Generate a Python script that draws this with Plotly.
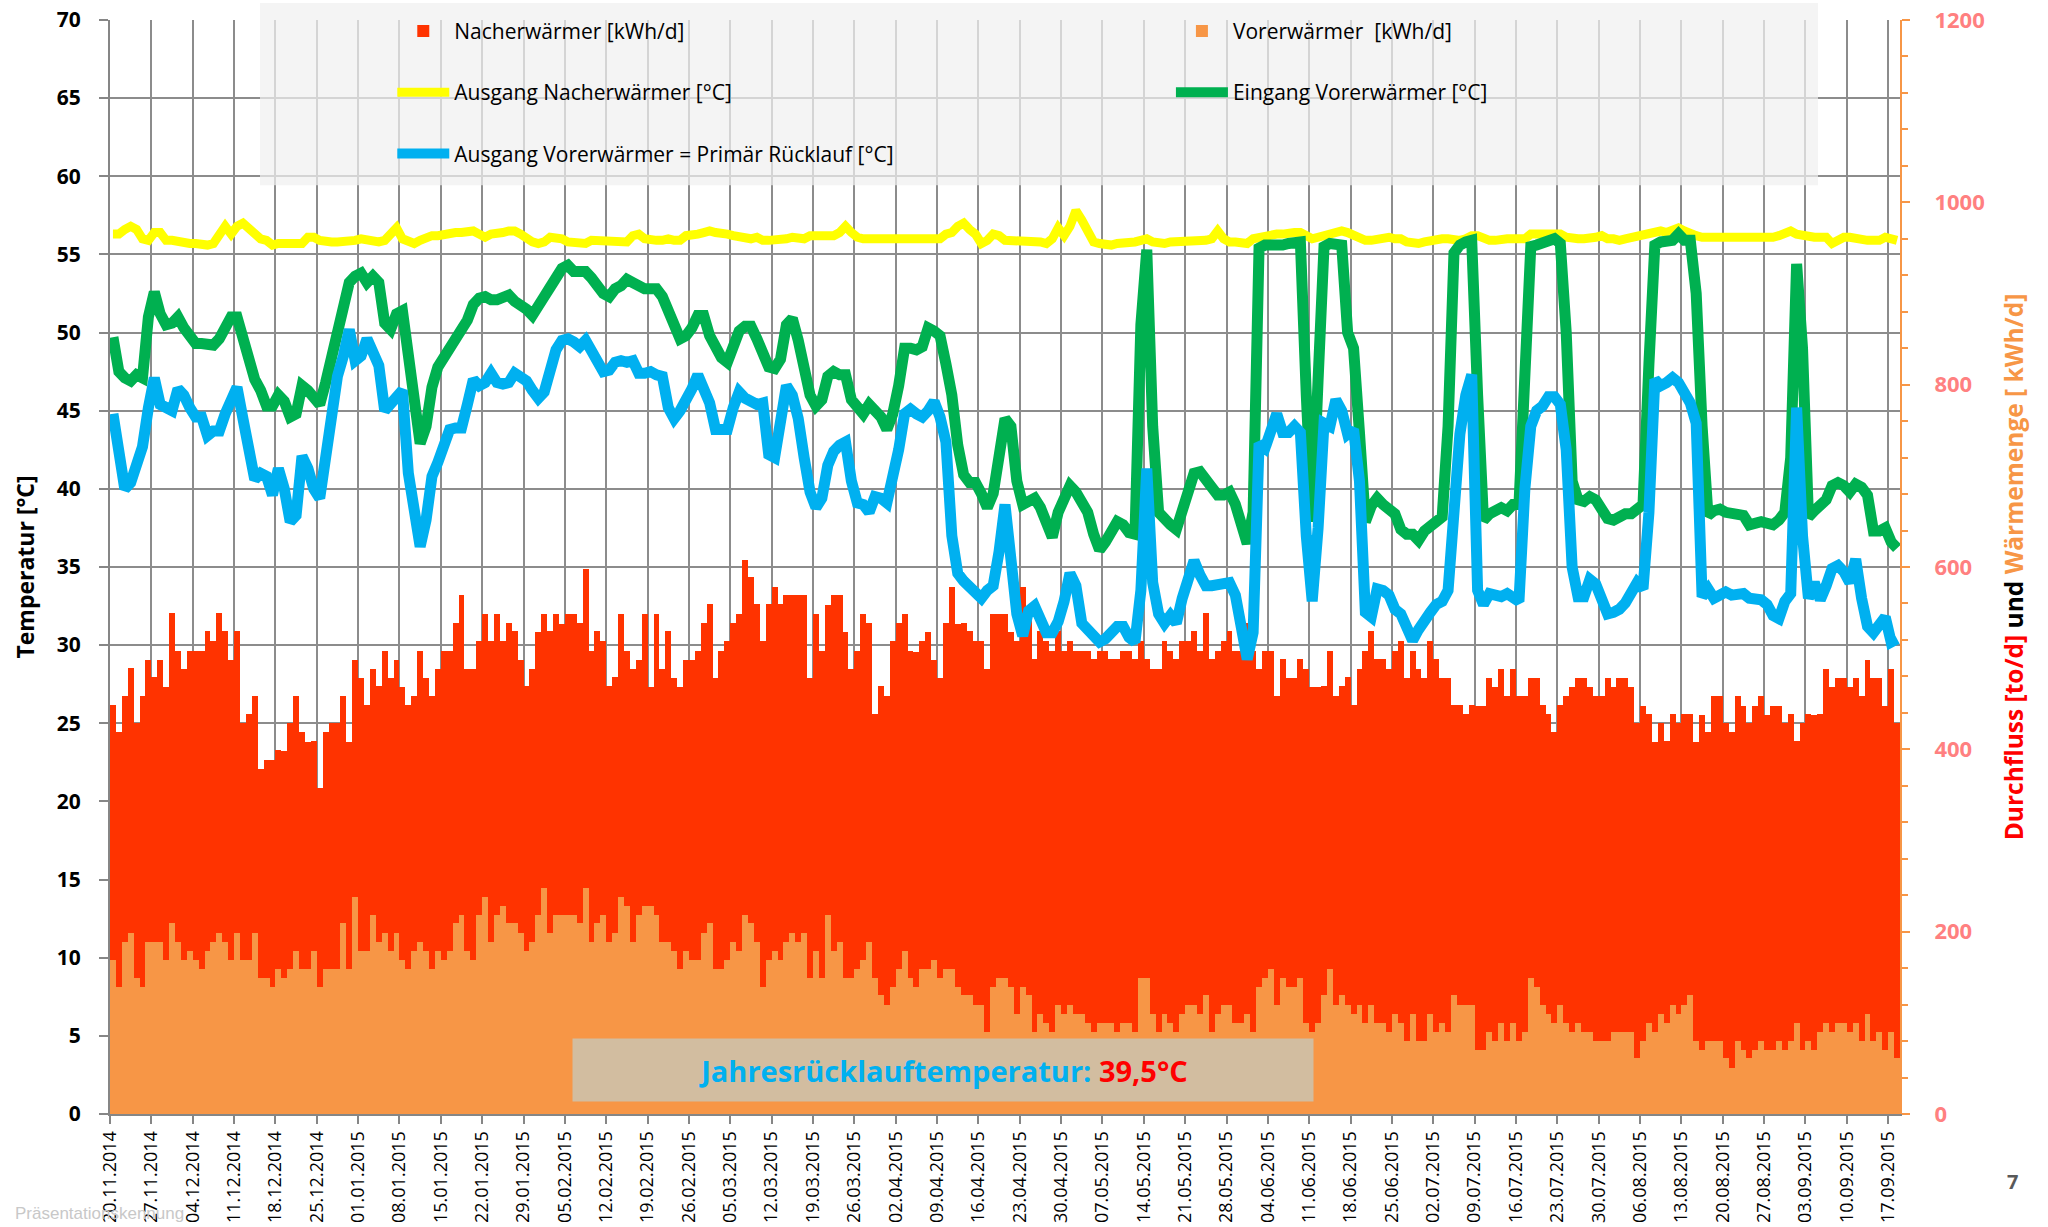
import pandas as pd
import plotly.graph_objects as go

# ---------------- data (one value per day, 20.11.2014 - 18.09.2015) ----------------
start_date = "2014-11-20"
n_days = 303
dates = pd.date_range(start_date, periods=n_days, freq="D")

# Nacherwärmer [kWh/d] (red part of the stacked columns)
nacherwaermer_kwh = [
    280, 280, 270, 290, 280, 319, 309, 290, 309, 299, 341, 319, 319, 329, 339, 349, 351, 330, 351, 341,
    329, 331, 260, 270, 260, 229, 239, 249, 240, 249, 270, 280, 260, 249, 230, 219, 260, 270, 270, 250,
    249, 260, 299, 270, 270, 280, 309, 299, 299, 299, 290,
    280, 319, 299, 299, 309, 339, 329, 330, 351, 309, 319, 301, 311, 330, 331, 291, 330, 321, 299, 290,
    299, 311, 301, 331, 331, 320, 331, 331, 330, 350, 319, 321, 301, 280, 280, 311, 280, 299, 280, 321,
    240, 331, 299, 341, 299, 309, 319, 329, 339, 340, 350,
    319, 349, 350, 350, 370, 390, 380, 370, 380, 390, 399, 390, 380, 370, 380, 370, 329, 370, 359, 340,
    390, 380, 380, 339, 349, 380, 350, 290, 339, 339, 380, 380, 370, 359, 368, 360, 370, 329, 329, 380,
    419, 399, 409, 400, 399, 399, 398, 410, 400, 400, 390,
    409, 439, 420, 409, 420, 419, 418, 410, 398, 399, 398, 398, 408, 409, 408, 408, 399, 409, 408, 408,
    409, 370, 350, 378, 398, 409, 408, 409, 409, 399, 410, 398, 420, 409, 398, 399, 410, 408, 408, 429,
    418, 349, 359, 349, 339, 350, 339, 339, 350, 388,
    378, 368, 339, 349, 339, 339, 359, 339, 368, 408, 410, 399, 399, 398, 398, 419, 398, 398, 408, 398,
    409, 409, 378, 388, 319, 329, 319, 329, 378, 378, 388, 388, 388, 378, 388, 378, 368, 329, 339, 329,
    329, 319, 329, 359, 378, 378, 388, 378, 378, 378, 398,
    378, 388, 388, 378, 368, 368, 339, 318, 319, 309, 319, 319, 319, 309, 328, 368, 339, 378, 378, 368,
    368, 378, 378, 368, 378, 378, 368, 378, 368, 359, 359, 309, 359, 359, 368, 349, 388, 378, 378, 378,
    378, 378, 378, 388, 398, 388, 378, 398, 368,
]

# Vorerwärmer [kWh/d] (orange part of the stacked columns)
vorerwaermer_kwh = [
    169, 139, 189, 199, 149, 139, 189, 189, 189, 169, 209, 189, 169, 179, 169, 159, 179, 189, 199, 189,
    169, 199, 169, 169, 199, 149, 149, 139, 159, 149, 159, 179, 159, 159, 179, 139, 159, 159, 159, 209,
    159, 238, 179, 179, 218, 189, 199, 179, 199, 169, 159,
    179, 189, 179, 159, 179, 169, 179, 209, 218, 179, 169, 218, 238, 189, 218, 228, 209, 209, 199, 179,
    189, 218, 248, 199, 218, 218, 218, 218, 209, 248, 189, 209, 218, 189, 199, 238, 228, 189, 218, 228,
    228, 218, 189, 189, 179, 159, 179, 169, 169, 199, 209,
    159, 159, 169, 189, 179, 218, 209, 189, 139, 169, 179, 169, 189, 199, 189, 199, 149, 179, 149, 218,
    179, 189, 149, 149, 159, 169, 189, 149, 130, 120, 139, 159, 179, 149, 139, 159, 159, 169, 149, 159,
    159, 139, 130, 130, 120, 120, 90, 139, 149, 149, 139,
    110, 139, 130, 90, 110, 100, 90, 120, 110, 120, 110, 110, 100, 90, 100, 100, 100, 90, 100, 100,
    90, 149, 149, 110, 90, 110, 100, 90, 110, 120, 120, 110, 130, 90, 110, 120, 120, 100, 100, 110,
    90, 139, 149, 159, 120, 149, 139, 139, 149, 100,
    90, 100, 130, 159, 120, 130, 120, 110, 120, 100, 120, 100, 100, 90, 110, 100, 80, 110, 80, 80,
    110, 90, 100, 90, 130, 120, 120, 120, 70, 70, 90, 80, 100, 80, 100, 80, 90, 149, 139, 120,
    110, 100, 120, 100, 90, 100, 90, 90, 80, 80, 80,
    90, 90, 90, 90, 61, 80, 100, 90, 110, 100, 120, 110, 120, 130, 80, 70, 80, 80, 80, 61,
    51, 80, 70, 61, 70, 80, 70, 70, 80, 70, 80, 100, 70, 80, 70, 90, 100, 90, 100, 100,
    90, 100, 80, 110, 80, 90, 70, 90, 61,
]

# Ausgang Nacherwärmer [°C]
ausgang_nacherwaermer = [
    56.3, 56.3, 56.6, 56.8, 56.6, 56.0, 55.9, 56.4, 56.4, 55.9, 55.9, 55.8, 55.8, 55.7, 55.7, 55.6, 55.6, 55.7, 56.4, 56.8,
    56.3, 56.8, 57.0, 56.6, 56.2, 56.0, 55.9, 55.6, 55.7, 55.7, 55.7, 55.8, 55.7, 56.1, 56.1, 55.9, 55.8, 55.8, 55.8, 55.8,
    55.9, 55.9, 56.0, 55.9, 55.9, 55.8, 55.9, 56.3, 56.7, 56.0, 55.8,
    55.7, 55.9, 56.1, 56.2, 56.2, 56.3, 56.4, 56.4, 56.4, 56.5, 56.5, 56.3, 56.1, 56.3, 56.3, 56.4, 56.5, 56.5, 56.3, 56.0,
    55.8, 55.7, 55.8, 56.1, 56.1, 56.0, 55.8, 55.8, 55.7, 55.7, 55.9, 55.9, 55.8, 55.8, 55.9, 55.9, 55.8, 56.2, 56.3, 56.0,
    55.9, 55.9, 55.9, 56.0, 55.9, 55.9, 56.2, 56.2, 56.3, 56.4, 56.5,
    56.4, 56.4, 56.3, 56.2, 56.1, 56.0, 56.0, 56.1, 55.9, 55.9, 55.9, 56.0, 56.0, 56.1, 56.1, 56.0, 56.2, 56.2, 56.1, 56.1,
    56.2, 56.4, 56.8, 56.4, 56.1, 56.0, 56.0, 56.0, 56.1, 56.1, 56.0, 56.0, 56.0, 56.0, 56.0, 56.0, 56.0, 56.0, 56.0, 56.3,
    56.4, 56.8, 57.0, 56.6, 56.3, 55.7, 55.9, 56.3, 56.2, 55.9, 55.9,
    55.9, 55.9, 55.9, 55.8, 55.8, 55.7, 56.0, 56.7, 56.2, 56.8, 57.8, 57.2, 56.5, 55.8, 55.7, 55.6, 55.6, 55.7, 55.7, 55.7,
    55.8, 55.9, 56.0, 55.8, 55.7, 55.7, 55.8, 55.8, 55.8, 55.9, 55.9, 55.9, 55.9, 56.0, 56.5, 56.0, 55.8, 55.8, 55.7, 55.7,
    56.0, 56.1, 56.2, 56.2, 56.3, 56.3, 56.4, 56.4, 56.4, 56.2,
    56.0, 56.1, 56.2, 56.2, 56.4, 56.5, 56.4, 56.2, 56.0, 55.9, 55.9, 56.0, 56.0, 56.1, 56.0, 56.0, 55.8, 55.7, 55.7, 55.8,
    55.9, 56.0, 56.0, 56.0, 55.9, 55.9, 56.0, 56.2, 56.2, 56.0, 55.9, 55.9, 56.0, 56.0, 56.0, 56.0, 56.0, 56.3, 56.3, 56.3,
    56.4, 56.4, 56.3, 56.1, 56.0, 56.0, 56.0, 56.0, 56.1, 56.2, 56.0,
    56.0, 55.9, 56.0, 56.1, 56.2, 56.3, 56.4, 56.5, 56.5, 56.4, 56.5, 56.7, 56.5, 56.3, 56.2, 56.1, 56.1, 56.1, 56.1, 56.1,
    56.1, 56.1, 56.1, 56.0, 56.0, 56.0, 56.0, 56.1, 56.2, 56.3, 56.5, 56.3, 56.2, 56.2, 56.1, 56.1, 56.1, 55.7, 55.9, 56.1,
    56.1, 56.0, 56.0, 55.9, 55.9, 55.9, 56.1, 56.0, 55.9,
]

# Eingang Vorerwärmer [°C]
eingang_vorerwaermer = [
    49.7, 47.5, 47.1, 46.9, 47.3, 47.1, 51.0, 52.6, 51.2, 50.5, 50.6, 51.0, 50.3, 49.7, 49.3, 49.3, 49.3, 49.2, 49.6, 50.2,
    51.0, 51.0, 49.5, 47.9, 47.0, 46.3, 45.3, 45.3, 46.0, 45.6, 44.6, 44.8, 46.6, 46.3, 45.9, 45.4, 46.8, 48.6, 50.3, 51.8,
    53.2, 53.6, 53.8, 53.2, 53.6, 53.2, 50.6, 50.2, 51.2, 51.4, 48.5,
    45.8, 42.9, 44.0, 46.5, 47.8, 48.4, 49.0, 49.6, 50.2, 50.8, 51.8, 52.2, 52.3, 52.1, 52.1, 52.2, 52.4, 52.0, 51.8, 51.5,
    51.1, 51.6, 52.3, 52.9, 53.6, 54.1, 54.3, 53.9, 53.9, 53.9, 53.5, 53.0, 52.5, 52.3, 52.8, 53.0, 53.4, 53.2, 53.0, 52.8,
    52.8, 52.8, 52.3, 51.4, 50.6, 49.6, 49.8, 50.3, 51.1, 51.1, 49.8,
    49.0, 48.4, 48.1, 49.4, 50.1, 50.4, 50.4, 49.6, 48.8, 47.8, 47.7, 48.3, 50.5, 50.9, 49.5, 47.5, 46.0, 45.3, 45.7, 47.2,
    47.5, 47.3, 47.3, 45.7, 45.2, 44.8, 45.4, 45.0, 44.6, 43.8, 44.8, 46.6, 49.0, 49.0, 48.9, 49.1, 50.3, 50.1, 49.8, 48.0,
    46.0, 42.8, 40.9, 40.4, 40.4, 39.7, 38.8, 39.7, 42.0, 44.5, 44.0,
    40.5, 39.0, 39.2, 39.4, 38.8, 38.0, 36.9, 38.5, 39.6, 40.2, 39.8, 39.2, 38.5, 37.1, 36.1, 36.6, 37.3, 37.9, 37.7, 37.2,
    37.1, 50.5, 55.3, 44.0, 38.5, 38.0, 37.7, 37.4, 38.5, 40.0, 41.0, 41.1, 40.6, 40.0, 39.6, 39.6, 39.8, 39.0, 37.8, 36.5,
    38.5, 55.4, 55.6, 55.6, 55.5, 55.6, 55.7, 55.8, 55.8, 46.0,
    37.9, 47.0, 55.5, 55.7, 55.6, 55.6, 50.0, 49.0, 43.6, 37.9, 38.9, 39.4, 39.0, 38.7, 38.4, 37.4, 37.1, 37.1, 36.7, 37.3,
    37.7, 37.9, 38.2, 44.0, 55.1, 55.6, 55.8, 55.9, 46.0, 38.0, 38.4, 38.7, 38.8, 38.6, 39.0, 39.0, 46.0, 55.5, 55.6, 55.7,
    55.8, 56.0, 55.7, 50.0, 40.5, 39.3, 39.2, 39.5, 39.3, 38.6, 38.1,
    38.0, 38.3, 38.4, 38.4, 38.8, 39.0, 48.0, 55.6, 55.8, 55.8, 55.9, 56.3, 55.9, 55.9, 52.5, 44.0, 38.3, 38.6, 38.7, 38.5,
    38.4, 38.4, 38.3, 37.7, 37.8, 37.9, 37.8, 37.7, 38.0, 38.5, 42.0, 54.4, 49.0, 38.2, 38.6, 38.9, 39.3, 40.2, 40.4, 40.2,
    39.8, 40.3, 40.1, 39.6, 37.3, 37.3, 37.5, 36.6, 36.2,
]

# Ausgang Vorerwärmer = Primär Rücklauf [°C]
ausgang_vorerwaermer = [
    44.8, 42.5, 40.0, 40.4, 41.9, 42.7, 45.2, 47.1, 45.4, 45.2, 45.0, 46.4, 46.0, 45.2, 44.6, 44.6, 43.4, 43.7, 43.7, 44.8,
    45.7, 46.5, 44.5, 42.1, 40.6, 41.0, 40.8, 39.6, 41.3, 40.0, 37.9, 38.3, 42.1, 41.3, 40.0, 39.4, 42.0, 45.0, 47.2, 48.5,
    50.2, 48.2, 48.5, 49.6, 48.8, 47.9, 45.0, 45.4, 46.0, 46.3, 41.0,
    38.6, 36.3, 38.0, 40.8, 41.7, 42.9, 43.8, 43.9, 43.9, 45.4, 47.0, 46.6, 46.8, 47.4, 46.8, 46.7, 46.8, 47.4, 47.1, 46.9,
    46.3, 45.8, 46.2, 47.9, 48.9, 49.5, 49.6, 49.4, 49.1, 49.5, 48.9, 48.0, 47.5, 47.6, 48.1, 48.2, 48.1, 48.2, 47.4, 47.4,
    47.5, 47.3, 47.2, 45.2, 44.5, 45.0, 45.6, 46.4, 47.3, 46.5, 45.5,
    43.8, 43.8, 43.8, 45.2, 46.2, 45.8, 45.5, 45.4, 45.5, 42.2, 42.0, 44.5, 46.6, 46.0, 44.5, 42.0, 39.8, 38.8, 39.4, 41.5,
    42.4, 42.8, 43.0, 40.5, 39.1, 39.0, 38.5, 39.5, 39.4, 39.1, 40.6, 42.5, 44.8, 45.1, 44.8, 44.6, 45.0, 45.6, 44.6, 43.0,
    37.0, 34.6, 34.1, 33.7, 33.2, 33.0, 33.5, 33.8, 36.0, 39.0, 35.5,
    32.0, 30.6, 32.2, 32.5, 31.5, 30.8, 30.8, 31.5, 32.8, 34.6, 33.8, 31.4, 31.0, 30.7, 30.2, 30.4, 30.9, 31.2, 31.2, 30.5,
    30.2, 33.5, 41.3, 34.0, 32.0, 31.4, 31.9, 31.4, 33.0, 34.4, 35.4, 34.5, 33.8, 33.8, 33.9, 34.0, 34.0, 33.2, 31.0, 29.1,
    30.8, 42.9, 42.6, 43.8, 44.8, 43.6, 43.6, 44.0, 43.6, 37.0,
    32.8, 37.5, 44.2, 44.0, 45.7, 45.0, 43.5, 43.8, 40.5, 32.1, 31.8, 33.6, 33.5, 33.2, 32.3, 32.0, 31.2, 30.3, 31.0, 31.7,
    32.1, 32.6, 32.8, 33.5, 38.5, 43.5, 46.0, 47.3, 33.5, 32.6, 33.3, 33.2, 33.1, 33.3, 33.0, 32.8, 40.0, 44.0, 45.0, 45.3,
    45.9, 45.9, 45.4, 42.5, 35.0, 33.1, 33.1, 34.2, 33.9, 33.0, 32.0,
    32.1, 32.3, 32.7, 33.4, 34.0, 33.6, 38.5, 47.0, 46.6, 46.8, 47.1, 46.8, 46.1, 45.5, 44.2, 33.1, 33.6, 33.0, 33.2, 33.4,
    33.2, 33.2, 33.3, 33.0, 32.9, 32.9, 32.6, 31.9, 31.7, 32.8, 33.3, 45.2, 37.0, 33.0, 34.0, 32.9, 33.8, 34.9, 35.1, 34.7,
    34.0, 35.5, 33.0, 31.2, 30.8, 31.3, 31.8, 30.2, 30.4,
]

jahres_ruecklauf_text = "39,5°C"

for name, arr in [("N", nacherwaermer_kwh), ("V", vorerwaermer_kwh), ("Y", ausgang_nacherwaermer),
                  ("G", eingang_vorerwaermer), ("B", ausgang_vorerwaermer)]:
    assert len(arr) == n_days, (name, len(arr))

# ---------------- figure ----------------
DAY_MS = 86400000
RED = "#ff3300"
ORANGE = "#f79646"
GRID = "#8c8c8c"
AXIS = "#868686"
FONT = "Open Sans"

fig = go.Figure()

fig.add_trace(go.Bar(
    x=dates, y=vorerwaermer_kwh, name="Vorerwärmer  [kWh/d]",
    xperiod=DAY_MS, xperiodalignment="middle",
    marker=dict(color=ORANGE, line=dict(width=0)),
    yaxis="y", legend="legend2", legendgroup="vor", legendrank=1,
))
fig.add_trace(go.Bar(
    x=dates, y=nacherwaermer_kwh, name="Nacherwärmer [kWh/d]",
    xperiod=DAY_MS, xperiodalignment="middle",
    marker=dict(color=RED, line=dict(width=0)),
    yaxis="y", legend="legend", legendgroup="nach", legendrank=1,
))
fig.add_trace(go.Scatter(
    x=dates, y=ausgang_nacherwaermer, name="Ausgang Nacherwärmer [°C]", mode="lines",
    xperiod=DAY_MS, xperiodalignment="middle",
    line=dict(color="#ffff00", width=9), yaxis="y2",
    legend="legend", legendgroup="ausnach", legendrank=2,
))
fig.add_trace(go.Scatter(
    x=dates, y=eingang_vorerwaermer, name="Eingang Vorerwärmer [°C]", mode="lines",
    xperiod=DAY_MS, xperiodalignment="middle",
    line=dict(color="#00b050", width=11), yaxis="y2",
    legend="legend2", legendgroup="einvor", legendrank=2,
))
fig.add_trace(go.Scatter(
    x=dates, y=ausgang_vorerwaermer, name="Ausgang Vorerwärmer = Primär Rücklauf [°C]", mode="lines",
    xperiod=DAY_MS, xperiodalignment="middle",
    line=dict(color="#00b0f0", width=11), yaxis="y2",
    legend="legend", legendgroup="ausvor", legendrank=3,
))

legend_common = dict(
    font=dict(family=FONT, size=21, color="black"),
    bgcolor="rgba(0,0,0,0)", borderwidth=0,
    orientation="v", traceorder="grouped", tracegroupgap=31,
    itemwidth=52,
    yanchor="top", y=1.0084, xanchor="left",
)

fig.update_layout(
    template="none",
    width=2048, height=1227,
    margin=dict(l=110, r=148, t=20, b=113, autoexpand=False),
    paper_bgcolor="white", plot_bgcolor="white",
    font=dict(family=FONT, color="black"),
    barmode="stack", bargap=0,
    showlegend=True,
    legend=dict(x=0.1577, **legend_common),
    legend2=dict(x=0.5927, **legend_common),
    xaxis=dict(
        type="date", range=["2014-11-20", "2015-09-19"],
        tick0="2014-11-20", dtick=7 * DAY_MS, tickformat="%d.%m.%Y",
        tickangle=-90, tickfont=dict(family=FONT, size=18, color="black"),
        ticks="outside", ticklen=8, tickwidth=2, tickcolor=AXIS,
        showgrid=True, gridcolor=GRID, gridwidth=2,
        showline=True, linecolor=AXIS, linewidth=2,
        zeroline=False, automargin=False, ticklabeloverflow="allow",
    ),
    yaxis=dict(  # heat / flow axis (right)
        range=[0, 1200], side="right", dtick=200,
        tickfont=dict(family=FONT, size=22, color="#ff8080", weight="bold"),
        ticks="outside", ticklen=8, tickwidth=2, tickcolor=ORANGE,
        minor=dict(dtick=40, ticks="outside", ticklen=6, tickwidth=2, tickcolor=ORANGE, showgrid=False),
        showline=True, linecolor=ORANGE, linewidth=2,
        showgrid=False, zeroline=False, automargin=False,
        ticklabelstandoff=20, ticklabeloverflow="allow",
        title=dict(
            text="<span style='color:#ff0000'>Durchfluss [to/d]</span> und "
                 "<span style='color:#f79646'>Wärmemenge [ kWh/d]</span>",
            font=dict(family=FONT, size=24.5, color="black", weight="bold"),
            standoff=22,
        ),
    ),
    yaxis2=dict(  # temperature axis (left)
        overlaying="y", side="left", range=[0, 70], dtick=5,
        tickfont=dict(family=FONT, size=21, color="black", weight="bold"),
        ticks="outside", ticklen=9, tickwidth=2, tickcolor=AXIS,
        showline=True, linecolor=AXIS, linewidth=2,
        showgrid=True, gridcolor=GRID, gridwidth=2,
        zeroline=False, automargin=False,
        ticklabelstandoff=14, ticklabeloverflow="allow",
        title=dict(text="Temperatur [°C]", font=dict(family=FONT, size=23, color="black", weight="bold"),
                   standoff=16),
    ),
    shapes=[
        dict(type="rect", xref="paper", yref="paper", x0=0.0838, x1=0.9542, y0=0.849, y1=1.0155,
             fillcolor="rgba(240,240,240,0.72)", line=dict(width=0), layer="above"),
    ],
    annotations=[
        dict(xref="paper", yref="paper", x=0.4654, y=0.0402, xanchor="center", yanchor="middle",
             showarrow=False, width=740, height=62, borderpad=0,
             bgcolor="rgba(200,200,186,0.78)",
             text="<span style='color:#00b0f0'>Jahresrücklauftemperatur: </span>"
                  "<span style='color:#ff0000'>" + jahres_ruecklauf_text + "</span>",
             font=dict(family=FONT, size=29, weight="bold")),
        dict(xref="paper", yref="paper", x=-0.0542, y=-0.0905, xanchor="left", yanchor="middle",
             showarrow=False, text="Präsentationskennung",
             font=dict(family="Liberation Sans", size=17, color="#c8c8c8")),
        dict(xref="paper", yref="paper", x=1.063, y=-0.062, xanchor="center", yanchor="middle",
             showarrow=False, text="7",
             font=dict(family=FONT, size=20, color="#595959", weight="bold")),
    ],
)

# remove the default 8 px page margin so the 2048x1227 figure fills the window exactly
fig.write_html("out.html", config={"displayModeBar": False},
               post_script="document.body.style.margin='0px';")
